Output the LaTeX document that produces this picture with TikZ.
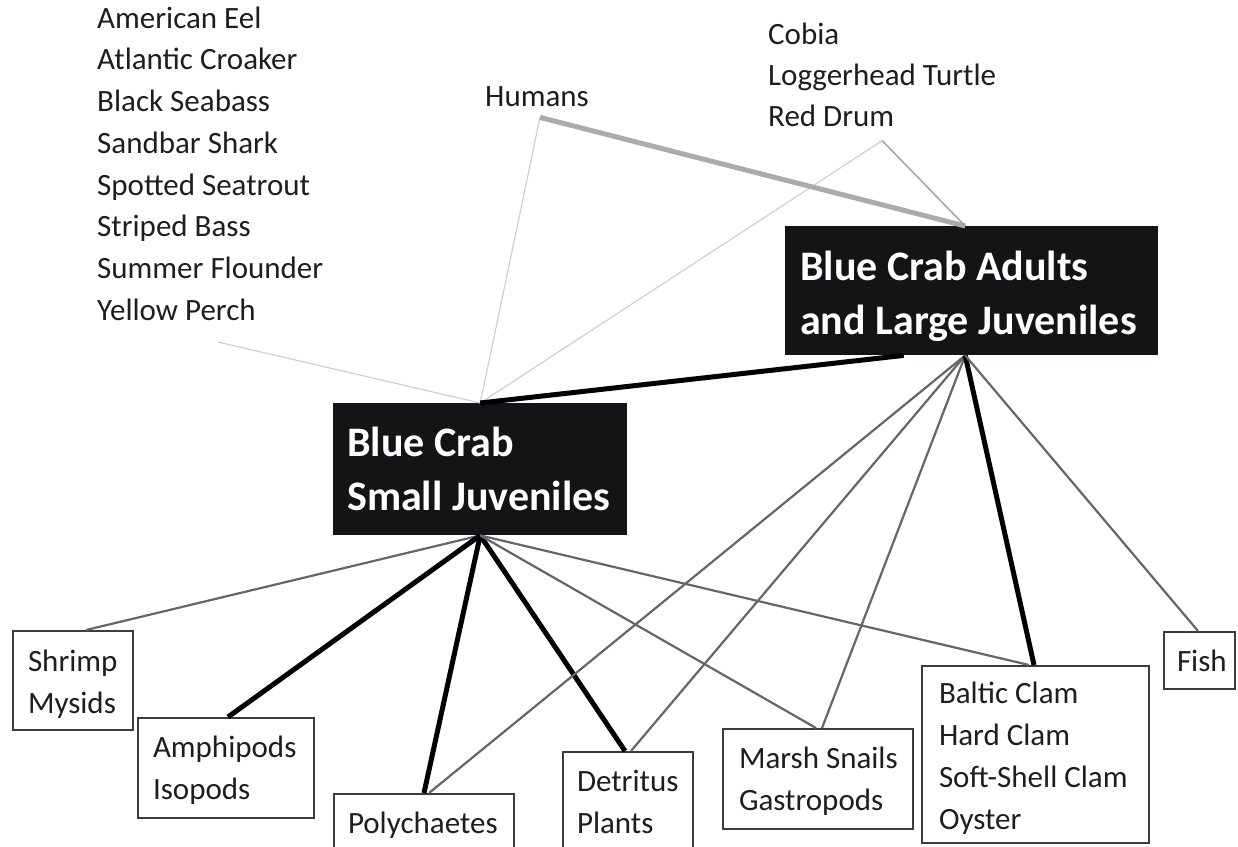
\documentclass[tikz,border=0pt]{standalone}
\usepackage{fontspec}
\setmainfont{Carlito}
\definecolor{ink}{HTML}{1E1E1E}
\definecolor{crabfill}{HTML}{131416}
\definecolor{boxline}{HTML}{3C3C3C}
\definecolor{linkgray}{HTML}{666666}
\definecolor{faintgray}{HTML}{CFCFCF}
\definecolor{humgray}{HTML}{ABABAB}
\definecolor{midgray}{HTML}{A3A3A3}
\newcommand{\tp}[1]{\spaceskip=0pt\xspaceskip=0pt\rule{0pt}{#1pt}}
\newcommand{\bt}[1]{\rule[-#1pt]{0pt}{0pt}}
\begin{document}
\begin{tikzpicture}[x=1pt,y=-1pt,
  lbl/.style={inner sep=0pt, align=left, text=ink, font=\fontsize{31}{41.7}\selectfont},
  prey/.style={anchor=north west, draw=boxline, line width=2pt, fill=white, inner ysep=0pt, inner xsep=#1, align=left, text=ink, font=\fontsize{31}{42}\selectfont},
  crab/.style={anchor=north west, fill=crabfill, inner ysep=0pt, inner xsep=#1, align=left, text=white, font=\fontsize{42}{54}\selectfont\bfseries},
  faint/.style={draw=faintgray, line width=1.2pt},
  soft/.style={draw=midgray, line width=1.5pt},
  heavygray/.style={draw=humgray, line width=5pt},
  link/.style={draw=linkgray, line width=2.2pt},
  strong/.style={draw=black, line width=5pt}]
\useasboundingbox (0,0) rectangle (1238,846);
\clip (0,0) rectangle (1238,846);
\fill[white] (0,0) rectangle (1238,846);

% predators
\node[lbl, anchor=north west] (preds) at (97,0) {\tp{28}American Eel\\Atlantic Croaker\\Black Seabass\\Sandbar Shark\\Spotted Seatrout\\Striped Bass\\Summer Flounder\\Yellow Perch};
\node[lbl, anchor=base west] (humans) at (485,106) {Humans};
\node[lbl, anchor=north west, font=\fontsize{31}{41}\selectfont] (cobia) at (768,0) {\tp{44}Cobia\\Loggerhead Turtle\\Red Drum};

% blue crab stages
\node[crab=14pt, text width=266pt] (sj) at (333,403) {\tp{53}\mbox{Blue Crab}\\\mbox{Small Juveniles}\bt{25}};
\node[crab=15pt, text width=343pt] (ad) at (785,226) {\tp{54}\mbox{Blue Crab Adults}\\\mbox{and Large Juveniles}\bt{21}};

% prey
\node[prey=15pt, text width=90pt] (shrimp) at (12,630) {\tp{40}Shrimp\\Mysids\bt{17}};
\node[prey=15pt, text width=146pt] (amph) at (137,717) {\tp{39}Amphipods\\Isopods\bt{19}};
\node[prey=14pt, text width=152pt] (poly) at (333,793) {\tp{39}Polychaetes\bt{48}};
\node[prey=14pt, text width=102pt] (detr) at (562,751) {\tp{39}Detritus\\Plants\bt{48}};
\node[prey=16pt, text width=158pt] (marsh) at (722,728) {\tp{39}\mbox{Marsh Snails}\\Gastropods\bt{19}};
\node[prey=17pt, text width=193pt] (clams) at (921,665) {\tp{37}\mbox{Baltic Clam}\\\mbox{Hard Clam}\\\mbox{Soft-Shell Clam}\\Oyster\bt{14}};
\node[prey=13pt, text width=45pt] (fish) at (1163,631) {\tp{39}Fish\bt{18}};

% attachment points of the predator labels
\coordinate (predsP) at (218,342);
\coordinate (humP) at ([xshift=3pt,yshift=-11pt]humans.south);
\coordinate (cobiaP) at ([yshift=-14pt]cobia.south);

% predators -> crabs
\draw[faint] (predsP) -- (sj.north);
\draw[faint] (humP) -- (sj.north);
\draw[faint] (cobiaP) -- (sj.north);
\draw[heavygray] (humP) -- ([xshift=-6.5pt]ad.north);
\draw[soft] (cobiaP) -- ([xshift=-6.5pt]ad.north);
\draw[strong] ([xshift=-68pt]ad.south) -- (sj.north);

% small juveniles -> prey
\draw[link] (sj.south) -- ([xshift=13pt]shrimp.north);
\draw[strong] (sj.south) -- ([xshift=2pt]amph.north);
\draw[strong] (sj.south) -- (poly.north);
\draw[strong] (sj.south) -- ([xshift=-3pt]detr.north);
\draw[link] (sj.south) -- ([xshift=-2pt]marsh.north);
\draw[link] (sj.south) -- ([xshift=-6.5pt]clams.north);

% adults -> prey
\draw[link] ([xshift=-6.5pt]ad.south) -- ([xshift=5pt]poly.north);
\draw[link] ([xshift=-6.5pt]ad.south) -- ([xshift=3pt]detr.north);
\draw[link] ([xshift=-6.5pt]ad.south) -- ([xshift=4pt]marsh.north);
\draw[strong] ([xshift=-6.5pt]ad.south) -- ([xshift=-1.5pt]clams.north);
\draw[link] ([xshift=-6.5pt]ad.south) -- ([xshift=-1.5pt]fish.north);
\end{tikzpicture}
\end{document}
